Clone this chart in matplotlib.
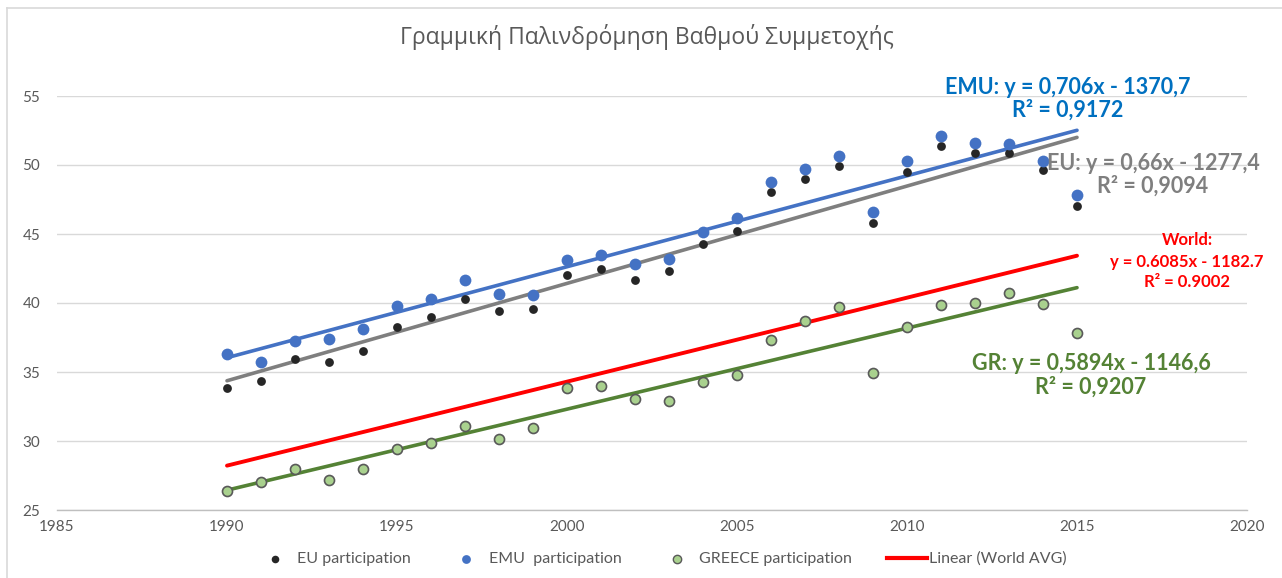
import numpy as np
import matplotlib
matplotlib.use("Agg")
import matplotlib.pyplot as plt
from matplotlib.lines import Line2D

years = list(range(1990, 2016))
eu = [33.85, 34.33, 35.96, 35.72, 36.49, 38.28, 38.98, 40.28, 39.41, 39.58,
      42.03, 42.44, 41.70, 42.32, 44.31, 45.23, 48.05, 48.98, 49.90, 45.80,
      49.46, 51.35, 50.84, 50.84, 49.62, 47.03]
emu = [36.30, 35.70, 37.22, 37.42, 38.14, 39.80, 40.27, 41.67, 40.66, 40.61,
       43.12, 43.49, 42.83, 43.21, 45.18, 46.19, 48.79, 49.70, 50.65, 46.60,
       50.30, 52.12, 51.57, 51.52, 50.30, 47.80]
greece = [26.35, 27.04, 28.00, 27.20, 27.98, 29.40, 29.86, 31.06, 30.17, 30.94,
          33.86, 34.00, 33.02, 32.92, 34.29, 34.77, 37.32, 38.69, 39.70, 34.94,
          38.26, 39.86, 40.03, 40.72, 39.93, 37.83]
world_slope = 0.6085
world_intercept = -1182.7

title = "Γραμμική Παλινδρόμηση Βαθμού Συμμετοχής"
emu_label = ["EMU: y = 0,706x - 1370,7", "R² = 0,9172"]
eu_label = ["EU: y = 0,66x - 1277,4", "R² = 0,9094"]
world_label = ["World:", "y = 0.6085x - 1182.7", "R² = 0.9002"]
gr_label = ["GR: y = 0,5894x - 1146,6", "R² = 0,9207"]
legend_labels = ["EU participation", "EMU  participation", "GREECE participation", "Linear (World AVG)"]
xticks = [1985, 1990, 1995, 2000, 2005, 2010, 2015, 2020]
yticks = [25, 30, 35, 40, 45, 50, 55]

plt.rcParams['font.family'] = ['Lato', 'Open Sans', 'DejaVu Sans']

W, H = 1282, 578
fig = plt.figure(figsize=(W / 100, H / 100), dpi=100)
# chart border (top and left visible)
fig.add_artist(Line2D([7 / W, 1], [1 - 8 / H, 1 - 8 / H], transform=fig.transFigure,
                      color="#D9D9D9", lw=1.2))
fig.add_artist(Line2D([7 / W, 7 / W], [0, 1 - 8 / H], transform=fig.transFigure,
                      color="#D9D9D9", lw=1.2))

ax = fig.add_axes([57 / W, 1 - 510 / H, (1247 - 57) / W, (510 - 96) / H])

x = np.array(years, dtype=float)
xl = np.array([years[0], years[-1]], dtype=float)

c_blue = "#4472C4"
c_black = "#262626"
c_green_fill = "#A9D18E"
c_green_line = "#548235"
c_gray = "#7F7F7F"

# trendlines
p_emu = np.polyfit(x, emu, 1)
p_eu = np.polyfit(x, eu, 1)
p_gr = np.polyfit(x, greece, 1)
ax.plot(xl, np.polyval(p_emu, xl), color=c_blue, lw=2.6, zorder=3, solid_capstyle='round')
ax.plot(xl, np.polyval(p_eu, xl), color=c_gray, lw=2.6, zorder=3, solid_capstyle='round')
ax.plot(xl, world_slope * xl + world_intercept, color="#FF0000", lw=2.8, zorder=3, solid_capstyle='round')
ax.plot(xl, np.polyval(p_gr, xl), color=c_green_line, lw=2.6, zorder=3, solid_capstyle='round')

ax.scatter(x, eu, s=40, color=c_black, zorder=4, linewidths=0)
ax.scatter(x, emu, s=72, color=c_blue, zorder=4, linewidths=0)
ax.scatter(x, greece, s=52, color=c_green_fill, edgecolors="#595959", linewidths=1.2, zorder=4)

ax.set_xlim(1985, 2020)
ax.set_ylim(25, 55)
ax.set_xticks(xticks)
ax.set_yticks(yticks)
ax.tick_params(axis='both', length=0, labelsize=11, labelcolor="#595959")
ax.tick_params(axis='x', pad=7)
ax.tick_params(axis='y', pad=12)
ax.grid(axis='y', color="#D9D9D9", lw=1)
ax.set_axisbelow(True)
for s in ['left', 'right', 'top']:
    ax.spines[s].set_visible(False)
ax.spines['bottom'].set_color("#BFBFBF")
ax.spines['bottom'].set_linewidth(1)

fig.text(647 / W, 1 - 37 / H, title, ha='center', va='center', fontsize=16.5, color="#595959",
         family=['Open Sans', 'DejaVu Sans'])

def ann(lines, cx, ys, color, size):
    for t, yy in zip(lines, ys):
        fig.text(cx / W, 1 - yy / H, t, ha='center', va='center', fontsize=size, color=color,
                 fontweight='bold')

ann(emu_label, 1068, [87, 110], "#0070C0", 15.5)
ann(eu_label, 1153, [163, 186], c_gray, 15.5)
ann(world_label, 1187, [240, 262, 282], "#FF0000", 12)
ann(gr_label, 1091, [364, 387], c_green_line, 15.5)

# legend
h1 = ax.scatter([], [], s=30, color=c_black, linewidths=0)
h2 = ax.scatter([], [], s=40, color=c_blue, linewidths=0)
h3 = ax.scatter([], [], s=36, color=c_green_fill, edgecolors="#595959", linewidths=1.0)
h4, = ax.plot([], [], color="#FF0000", lw=3)
leg = fig.legend([h1, h2, h3, h4], legend_labels, loc='center', bbox_to_anchor=(661 / W, 1 - 559 / H),
                 ncol=4, frameon=False, fontsize=11.5, labelcolor="#595959", columnspacing=2.2,
                 handlelength=2.5, handletextpad=0.15)

fig.savefig("out.png", dpi=100)
